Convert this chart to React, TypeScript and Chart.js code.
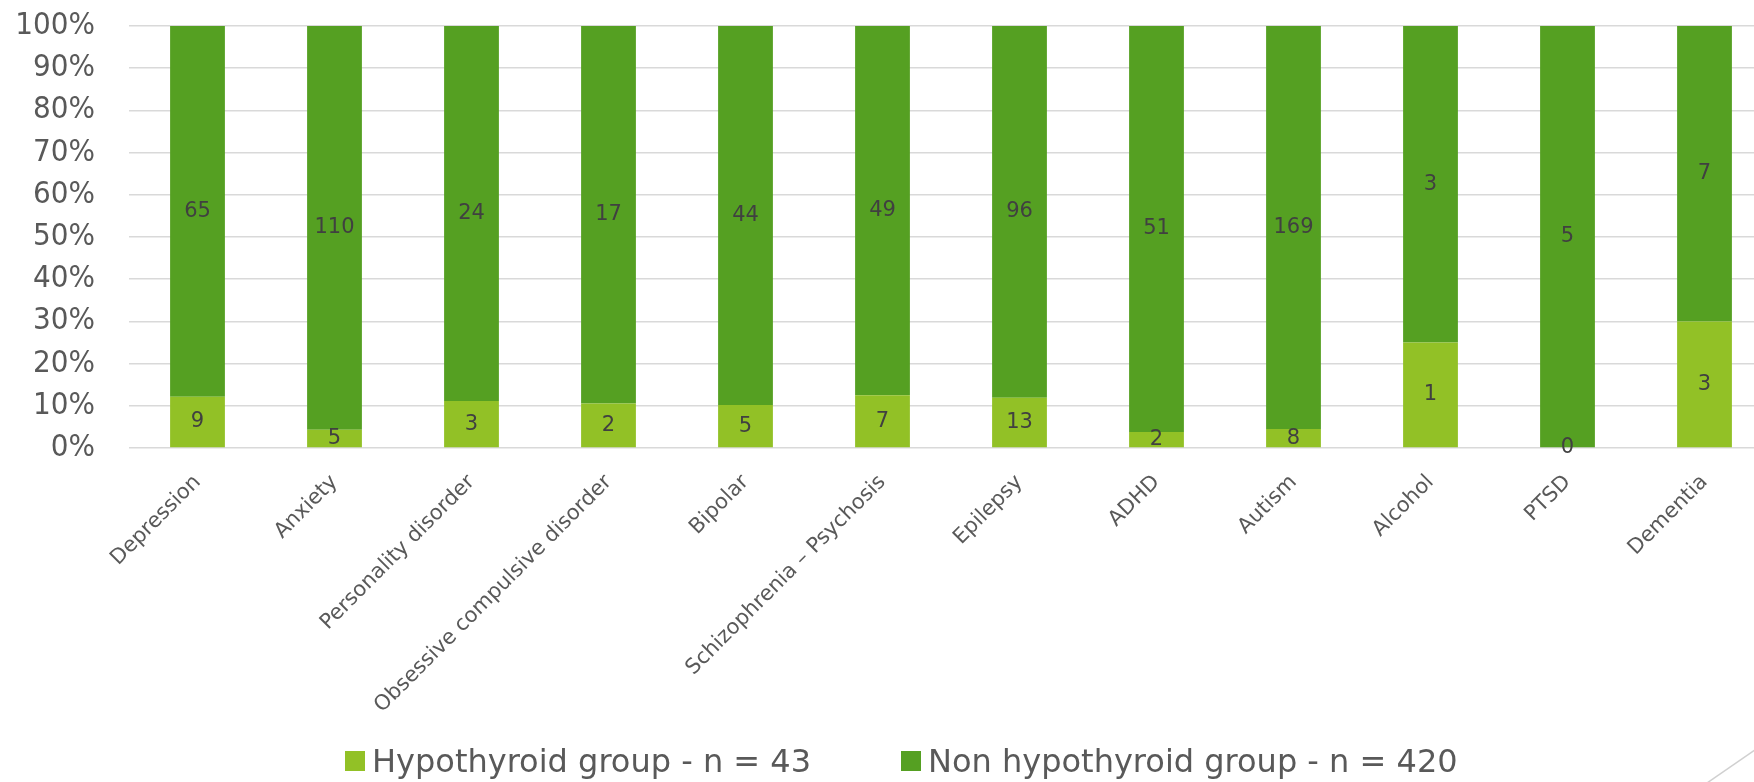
import React, { useEffect, useRef } from "react";
import { Chart, registerables } from "chart.js";

Chart.register(...registerables);

const categories = [
  "Depression",
  "Anxiety",
  "Personality disorder",
  "Obsessive compulsive disorder",
  "Bipolar",
  "Schizophrenia – Psychosis",
  "Epilepsy",
  "ADHD",
  "Autism",
  "Alcohol",
  "PTSD",
  "Dementia",
];
const hypothyroidCounts = [9, 5, 3, 2, 5, 7, 13, 2, 8, 1, 0, 3];
const nonHypothyroidCounts = [65, 110, 24, 17, 44, 49, 96, 51, 169, 3, 5, 7];
const seriesNames = ["Hypothyroid group - n = 43", "Non hypothyroid group - n = 420"];
const yTickValues = [0, 10, 20, 30, 40, 50, 60, 70, 80, 90, 100];

const LIGHT = "#92C126";
const DARK = "#55A022";
const TEXT = "#595959";
const LABEL = "#404040";
const GRID = "#D9D9D9";

const W = 1775;
const H = 782;

const toPct = (a: number[], b: number[]) =>
  a.map((v, i) => (a[i] + b[i] === 0 ? 0 : (v / (a[i] + b[i])) * 100));

const countsByDataset = [hypothyroidCounts, nonHypothyroidCounts];

const dataLabelPlugin = {
  id: "dataLabels",
  afterDatasetsDraw(chart: any) {
    const ctx = chart.ctx;
    ctx.save();
    ctx.font = '21px "DejaVu Sans", sans-serif';
    ctx.fillStyle = LABEL;
    ctx.textAlign = "center";
    ctx.textBaseline = "middle";
    chart.data.datasets.forEach((ds: any, di: number) => {
      const meta = chart.getDatasetMeta(di);
      meta.data.forEach((bar: any, i: number) => {
        const p = bar.getProps(["x", "y", "base"], true);
        const cy = (p.y + p.base) / 2;
        ctx.fillText(String(countsByDataset[di][i]), p.x, cy);
      });
    });
    ctx.restore();
  },
};

const legendPlugin = {
  id: "customLegend",
  afterDraw(chart: any) {
    const ctx = chart.ctx;
    ctx.save();
    const boxes = [345, 901];
    const texts = [372, 928];
    const colors = [LIGHT, DARK];
    ctx.font = '32px "DejaVu Sans", sans-serif';
    ctx.textBaseline = "alphabetic";
    ctx.textAlign = "left";
    chart.data.datasets.forEach((ds: any, i: number) => {
      ctx.fillStyle = colors[i];
      ctx.fillRect(boxes[i], 751, 20, 20);
      ctx.fillStyle = TEXT;
      ctx.fillText(ds.label, texts[i], 772);
    });
    // slide decoration line at bottom right
    ctx.strokeStyle = "#D0D0D0";
    ctx.lineWidth = 1.5;
    ctx.beginPath();
    ctx.moveTo(1707, 783);
    ctx.lineTo(1775, 736);
    ctx.stroke();
    ctx.restore();
  },
};

export default function App() {
  const ref = useRef<HTMLCanvasElement | null>(null);

  useEffect(() => {
    if (!ref.current) return;
    const chart = new Chart(ref.current, {
      type: "bar",
      data: {
        labels: categories,
        datasets: [
          {
            label: seriesNames[0],
            data: toPct(hypothyroidCounts, nonHypothyroidCounts),
            backgroundColor: LIGHT,
            barPercentage: 0.8,
            categoryPercentage: 0.5,
          },
          {
            label: seriesNames[1],
            data: toPct(nonHypothyroidCounts, hypothyroidCounts),
            backgroundColor: DARK,
            barPercentage: 0.8,
            categoryPercentage: 0.5,
          },
        ],
      },
      options: {
        responsive: false,
        animation: false,
        layout: { padding: { top: 26, right: 2, left: 0, bottom: 0 } },
        plugins: {
          legend: { display: false },
          tooltip: { enabled: false },
        },
        scales: {
          x: {
            stacked: true,
            grid: { display: false },
            border: { display: false },
            ticks: {
              autoSkip: false,
              maxRotation: 45,
              minRotation: 45,
              padding: 14,
              color: TEXT,
              font: { family: '"DejaVu Sans", sans-serif', size: 21 },
            },
            afterFit(scale: any) {
              scale.height = H - 448;
            },
          },
          y: {
            stacked: true,
            min: 0,
            max: 100,
            afterBuildTicks(scale: any) {
              scale.ticks = yTickValues.map((v) => ({ value: v }));
            },
            grid: {
              color: GRID,
              lineWidth: 1.5,
              drawTicks: true,
              tickLength: 34,
              tickColor: "rgba(0,0,0,0)",
            },
            border: { display: false },
            ticks: {
              autoSkip: false,
              padding: 0,
              color: TEXT,
              font: { family: '"DejaVu Sans Condensed", "DejaVu Sans", sans-serif', size: 31, lineHeight: 1.2 },
              callback: (v: any) => v + "%",
            },
            afterFit(scale: any) {
              scale.width = 129;
            },
          },
        },
      },
      plugins: [dataLabelPlugin, legendPlugin],
    });
    return () => chart.destroy();
  }, []);

  return (
    <div style={{ position: "fixed", left: 0, top: 0, width: W, height: H, background: "#fff" }}>
      <canvas ref={ref} width={W} height={H} style={{ width: W, height: H, display: "block" }} />
    </div>
  );
}
